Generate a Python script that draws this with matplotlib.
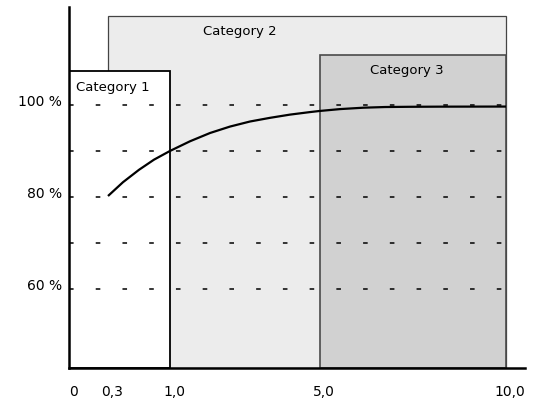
import numpy as np
import matplotlib
matplotlib.use("Agg")
import matplotlib.pyplot as plt
import matplotlib.transforms as mtransforms
from matplotlib.patches import Rectangle

# data
x_ticks = [0, 0.3, 1.0, 5.0, 10.0]
x_ticklabels = ["0", "0,3", "1,0", "5,0", "10,0"]
y_ticks = [60, 80, 100]
y_ticklabels = ["60 %", "80 %", "100 %"]
grid_levels = [60, 70, 80, 90, 100]

categories = ["Category 1", "Category 2", "Category 3"]
cat_x0 = [0.0, 0.3, 5.0]
cat_x1 = [1.0, 10.0, 10.0]
cat_top = [107.4, 119.4, 110.9]

curve_x = [0.3, 0.469, 0.65, 0.819, 1.0, 1.533, 2.067, 2.6, 3.133, 3.667,
           4.2, 4.733, 5.0, 5.54, 6.16, 6.75, 7.42, 8.23, 10.0]
curve_y = [80.2, 83.2, 85.9, 88.1, 90.0, 92.1, 93.9, 95.3, 96.4, 97.2,
           97.9, 98.45, 98.7, 99.1, 99.4, 99.55, 99.6, 99.63, 99.65]

# uneven x axis: tick values placed at fixed distances (piecewise linear)
knots = np.array([-1, 0, 0.3, 1, 5, 10, 20])
stretch = np.array([-130, 0, 39, 101, 251, 437, 809])

def fwd(v):
    return np.interp(v, knots, stretch)

def inv(p):
    return np.interp(p, stretch, knots)

fig = plt.figure(figsize=(5.44, 4.03), dpi=100)
ax = fig.add_axes([69 / 544, 35 / 403, 456 / 544, 361 / 403])
ax.set_xscale("function", functions=(fwd, inv))
ax.set_xlim(0, 10.51)
ax.set_ylim(42.8, 121.3)

bottom = 42.8
fills = ["white", "#ececec", "#d1d1d1"]
edges = ["black", "#444444", "#4a4a4a"]
lws = [1.3, 0.9, 1.2]
zs = [3, 1, 2]
for i in range(3):
    ax.add_patch(Rectangle((cat_x0[i], bottom), cat_x1[i] - cat_x0[i], cat_top[i] - bottom,
                           facecolor=fills[i], edgecolor=edges[i], linewidth=lws[i],
                           zorder=zs[i]))

ax.text(0.054, 103.9, categories[0], fontsize=9.5, ha="left", va="center", zorder=6)
ax.text(2.87, 115.9, categories[1], fontsize=9.5, ha="center", va="center", zorder=6)
ax.text(7.33, 107.5, categories[2], fontsize=9.5, ha="center", va="center", zorder=6)

ax.hlines(grid_levels, 0, 10, color="black", linewidth=1.1,
          linestyle=(0, (3.0, 14.5)), zorder=4)

ax.plot(curve_x, curve_y, color="black", linewidth=1.6, zorder=5,
        solid_capstyle="butt", solid_joinstyle="round")

for s in ["top", "right"]:
    ax.spines[s].set_visible(False)
for s in ["left", "bottom"]:
    ax.spines[s].set_linewidth(1.8)
    ax.spines[s].set_zorder(7)

ax.set_xticks(x_ticks)
ax.set_xticklabels(x_ticklabels)
ax.set_yticks(y_ticks)
ax.set_yticklabels(y_ticklabels)
ax.tick_params(axis="x", length=0, pad=12, labelsize=10)
ax.tick_params(axis="y", length=0, pad=5, labelsize=10)
ax.minorticks_off()

shift_x = mtransforms.ScaledTranslation(4 / 100, 0, fig.dpi_scale_trans)
for lab in ax.get_xticklabels():
    lab.set_transform(lab.get_transform() + shift_x)
shift_y = mtransforms.ScaledTranslation(0, 4.5 / 100, fig.dpi_scale_trans)
for lab in ax.get_yticklabels():
    lab.set_transform(lab.get_transform() + shift_y)

fig.savefig("out.png", dpi=100)
